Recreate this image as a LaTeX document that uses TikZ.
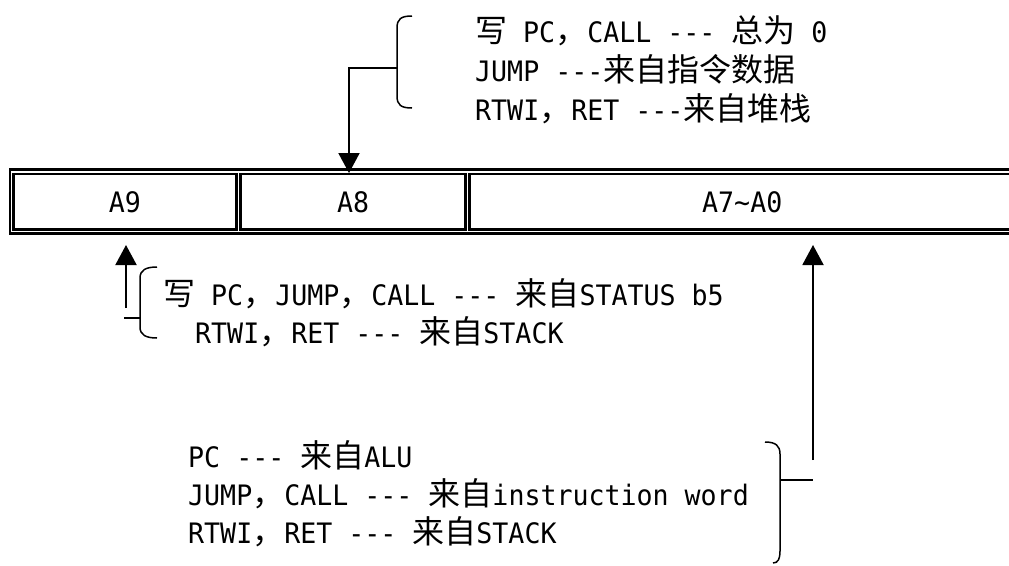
\documentclass[tikz,border=0pt]{standalone}
\usepackage{fontspec}
\setmonofont[Scale=0.88,FakeStretch=0.945]{DejaVu Sans Mono}
\newfontfamily\zh{Noto Sans CJK SC}
\usetikzlibrary{arrows.meta}
\begin{document}
\begin{tikzpicture}[x=1pt,y=-1pt,
  txt/.style={anchor=base west,inner sep=0pt,font=\fontsize{32}{38}\selectfont\ttfamily},
  cell/.style={draw,line width=2.7pt,minimum height=55.7pt,inner sep=0pt,anchor=center,
    font=\fontsize{32}{38}\selectfont\ttfamily},
  conn/.style={line width=2pt,-{Triangle[width=21pt,length=20pt]}},
  joinline/.style={line width=1.4pt},
  brace/.style={line width=1.5pt}]
\clip (0,0) rectangle (1009,565);
\fill[white] (0,0) rectangle (1009,565);

% register
\draw[line width=2.7pt] (10,169.7) rectangle (1030,233.8);
\node[cell,minimum width=222.7pt] (A9) at (124.85,201.85) {A9};
\node[cell,minimum width=225.3pt] (A8) at (353.15,201.85) {A8};
\node[cell,minimum width=545.5pt] (A70) at (742.25,201.85) {A7{\char"7E}A0};

% top note
\node[txt] (t1) at (475,42) {{\zh 写} PC{\zh ，}CALL -{}-{}- {\zh 总为} 0};
\node[txt] (t2) at (475,81) {JUMP -{}-{}-{\zh 来自指令数据}};
\node[txt] (t3) at (475,120) {RTWI{\zh ，}RET -{}-{}-{\zh 来自堆栈}};
\draw[brace] (412,16) .. controls (401,16) and (397,19) .. (397,28) -- (397,96) .. controls (397,105) and (401,108) .. (412,108);
\coordinate (tb) at (397,68);
\coordinate (tc) at (349,68);
\coordinate (a8top) at (349,173);
\draw[conn] (tb) -- (tc) -- (a8top);

% middle note
\node[txt] (m1) at (163,305) {{\zh 写} PC{\zh ，}JUMP{\zh ，}CALL -{}-{}- {\zh 来自}STATUS b5};
\node[txt] (m2) at (195,343) {RTWI{\zh ，}RET -{}-{}- {\zh 来自}STACK};
\draw[brace] (157,267) .. controls (146,267) and (140,270) .. (140,278) -- (140,327) .. controls (140,335) and (146,338) .. (157,338);
\coordinate (mb) at (140,318);
\coordinate (mj) at (124,318);
\draw[joinline] (mb) -- (mj);
\coordinate (ms) at (126,308);
\coordinate (a9bot) at (126,245);
\draw[conn] (ms) -- (a9bot);

% bottom note
\node[txt] (b1) at (188,467) {PC -{}-{}- {\zh 来自}ALU};
\node[txt] (b2) at (188,505) {JUMP{\zh ，}CALL -{}-{}- {\zh 来自}instruction word};
\node[txt] (b3) at (188,543) {RTWI{\zh ，}RET -{}-{}- {\zh 来自}STACK};
\draw[brace] (765,442) .. controls (776,442) and (780,446) .. (780,454) -- (780,551) .. controls (780,559) and (778,563) .. (773,563);
\coordinate (rb) at (780,480);
\coordinate (rj) at (813,480);
\draw[joinline] (rb) -- (rj);
\coordinate (rs) at (813,460);
\coordinate (a70bot) at (813,245);
\draw[conn] (rs) -- (a70bot);
\end{tikzpicture}
\end{document}
